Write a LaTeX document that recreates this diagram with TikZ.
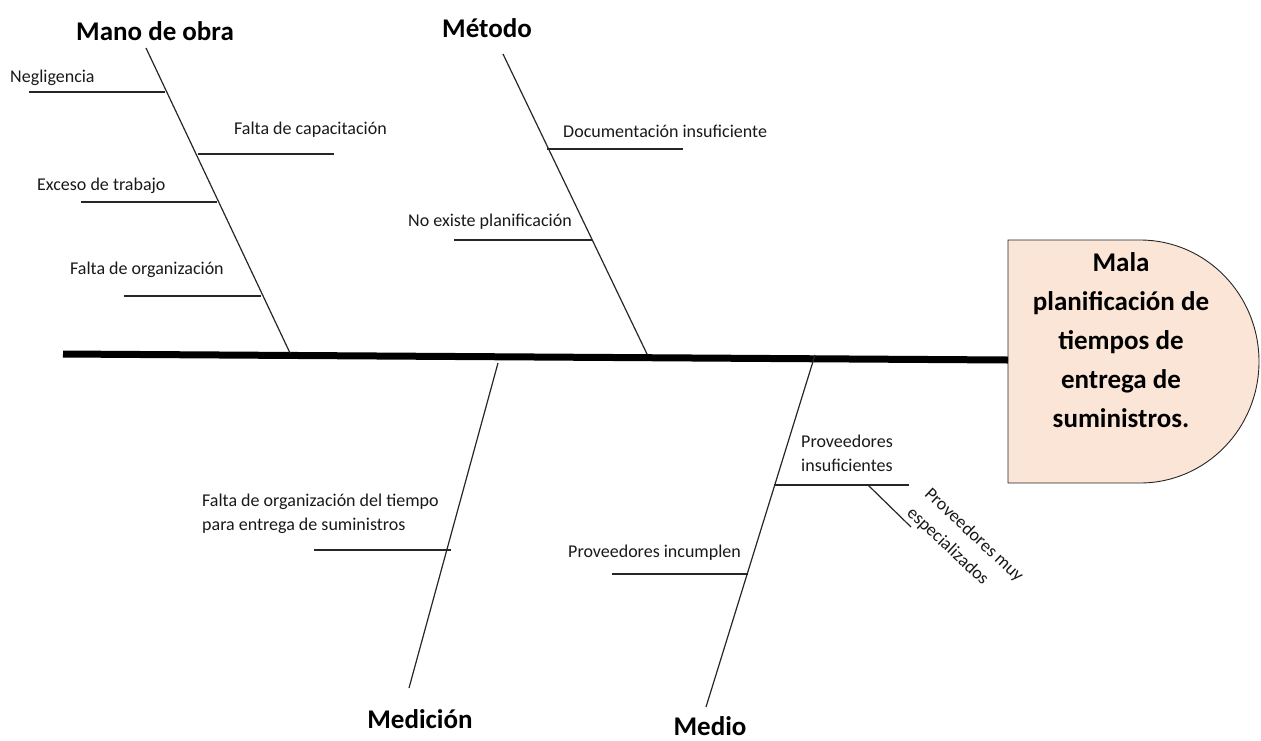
\documentclass[tikz,border=0pt]{standalone}
\usepackage{fontspec}
\setmainfont{Carlito}
\definecolor{headfill}{HTML}{FBE5D6}
\definecolor{inkgray}{HTML}{262626}
\begin{document}
\begin{tikzpicture}[x=1pt,y=-1pt,
  bone/.style={draw=inkgray,line width=1.2pt},
  spine/.style={draw=black,line width=7pt},
  causefont/.style={font=\fontsize{18}{24}\selectfont,inner sep=0pt,align=left,text=black!90},
  cause/.style={causefont,anchor=west},
  category/.style={font=\bfseries\fontsize{27}{32}\selectfont,inner sep=0pt},
  effect/.style={font=\bfseries\fontsize{27}{39}\selectfont,inner sep=0pt,align=center}]
\useasboundingbox (0,0) rectangle (1261,740);

% head of the fish
\coordinate (hTL) at (1008,240);
\coordinate (hBL) at (1008,483);
\fill[headfill] (hTL) -- (1140,240) arc[start angle=90,end angle=-90,x radius=119pt,y radius=121.5pt] -- (hBL) -- cycle;
\draw[draw=inkgray,line width=0.9pt] (hTL) -- (1140,240) arc[start angle=90,end angle=-90,x radius=119pt,y radius=121.5pt] -- (hBL) -- cycle;
\node[effect] (effect) at (1121,340) {Mala\\planificación de\\tiempos de\\entrega de\\suministros.};

% spine
\coordinate (spL) at (63,354);
\coordinate (spR) at (1008,360);
\draw[spine] (spL) -- (spR);

% Mano de obra
\node[category] (mano) at (155,31) {Mano de obra};
\coordinate (m0) at (146,48);
\coordinate (m1) at (290,353);
\draw[bone] (m0) -- (m1);
\coordinate (ma) at (29,92);   \coordinate (mb) at (165,92);
\coordinate (mc) at (198,154); \coordinate (md) at (334,154);
\coordinate (me) at (81,202);  \coordinate (mf) at (217,202);
\coordinate (mg) at (124,296); \coordinate (mh) at (261,296);
\draw[bone] (ma) -- (mb);
\draw[bone] (mc) -- (md);
\draw[bone] (me) -- (mf);
\draw[bone] (mg) -- (mh);
\node[cause] (neg) at (10,78) {Negligencia};
\node[cause] (cap) at (234,130) {Falta de capacitación};
\node[cause] (exc) at (37,186) {Exceso de trabajo};
\node[cause] (org) at (70,270) {Falta de organización};

% Método
\node[category] (metodo) at (487,28) {Método};
\coordinate (t0) at (503,54);
\coordinate (t1) at (647,354);
\draw[bone] (t0) -- (t1);
\coordinate (ta) at (547,149); \coordinate (tb) at (683,149);
\coordinate (tc) at (454,240); \coordinate (td) at (592,240);
\draw[bone] (ta) -- (tb);
\draw[bone] (tc) -- (td);
\node[cause] (doc) at (563,131) {Documentación insuficiente};
\node[cause] (plan) at (408,222) {No existe planificación};

% Medición
\node[category] (medicion) at (420,719) {Medición};
\coordinate (c0) at (498,363);
\coordinate (c1) at (409,688);
\draw[bone] (c0) -- (c1);
\coordinate (ca) at (314,550); \coordinate (cb) at (451,550);
\draw[bone] (ca) -- (cb);
\node[cause] (tiempo) at (202,514) {Falta de organización del tiempo\\para entrega de suministros};

% Medio
\node[category] (medio) at (710,726) {Medio};
\coordinate (d0) at (815,355);
\coordinate (d1) at (706,707);
\draw[bone] (d0) -- (d1);
\coordinate (da) at (774,485); \coordinate (db) at (909,485);
\coordinate (dc) at (868,485); \coordinate (dd) at (911,527);
\coordinate (de) at (612,574); \coordinate (df) at (748,574);
\draw[bone] (da) -- (db);
\draw[bone] (dc) -- (dd);
\draw[bone] (de) -- (df);
\node[cause] (insuf) at (801,453) {Proveedores\\insuficientes};
\node[cause] (incum) at (568,553) {Proveedores incumplen};
\node[causefont,font=\fontsize{18}{26}\selectfont,rotate=-43] (espec) at (965,545) {Proveedores muy\\especializados};
\end{tikzpicture}
\end{document}
